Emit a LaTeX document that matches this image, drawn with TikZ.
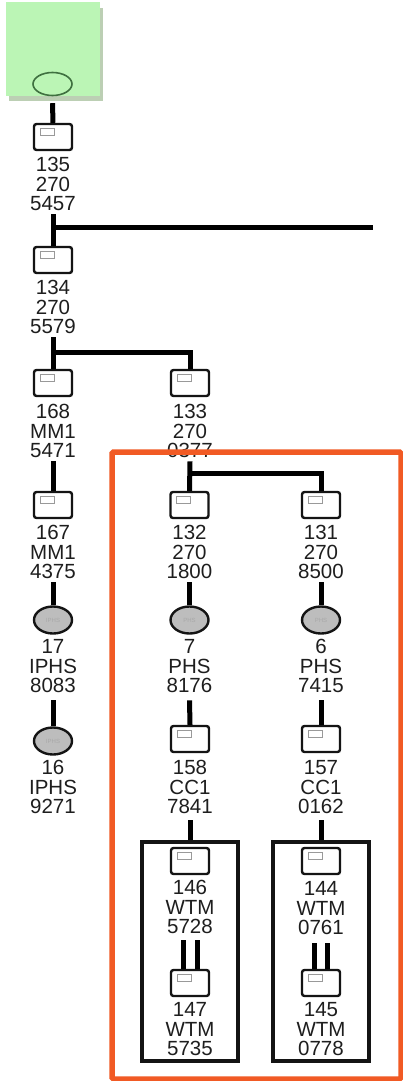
\documentclass[tikz,border=0pt]{standalone}
\usepackage{fontspec}
\setmainfont{Liberation Sans}
\usetikzlibrary{shapes.geometric}
\definecolor{ink}{HTML}{1E1E1E}
\definecolor{boxline}{HTML}{141414}
\definecolor{rootgreen}{HTML}{BBF5B5}
\definecolor{rootshadow}{HTML}{BCCFB4}
\definecolor{rootring}{HTML}{3F7040}
\definecolor{frameorange}{HTML}{F15A24}
\definecolor{tankgray}{HTML}{BDBDBD}
\definecolor{tanktext}{HTML}{A8A8A8}
\tikzset{
  x=1pt,y=-1pt,
  conn/.style={line width=5pt,draw=black},
  unitbox/.style={draw=boxline,fill=white,line width=2.4pt,rounded corners=2.5pt,minimum width=38pt,minimum height=26pt,inner sep=0pt,
    path picture={\draw[sharp corners,draw=gray!80,line width=1pt,fill=white] ([xshift=6pt,yshift=-4pt]path picture bounding box.north west) rectangle ++(14pt,-7pt);}},
  tankoval/.style={ellipse,draw=boxline,fill=tankgray,line width=2.4pt,minimum width=38pt,minimum height=27pt,inner sep=0pt,text=tanktext,font=\fontsize{6}{6}\selectfont},
  lab/.style={anchor=north,align=center,text=ink,inner sep=0pt,minimum height=60pt,text width=70pt,font=\fontsize{20.5}{19.7}\selectfont},
  frame/.style={draw=boxline,line width=4pt,minimum width=96pt,minimum height=219pt,inner sep=0pt}
}
\begin{document}
\begin{tikzpicture}
\useasboundingbox (0,0) rectangle (403,1081);
\fill[white] (0,0) rectangle (403,1081);
% root
\fill[rootshadow] (9,8) rectangle (103,101);
\node[fill=rootgreen,minimum width=94pt,minimum height=94pt,inner sep=0pt] (root) at (52.5,49) {};
\node[ellipse,draw=rootring,line width=1.6pt,minimum width=39pt,minimum height=23pt,inner sep=0pt] (rootoval) at (52.5,84) {};
% frames
\node[frame] (frameA) at (190,951.5) {};
\node[frame] (frameB) at (321,951.5) {};
% boxes
\node[unitbox] (b135) at (53,137) {};
\node[lab] (l135) at (53,154) {135\\270\\5457};
\node[unitbox] (b134) at (53,260) {};
\node[lab] (l134) at (53,277) {134\\270\\5579};
\node[unitbox] (b168) at (53,383) {};
\node[lab] (l168) at (53,401) {168\\MM1\\5471};
\node[unitbox] (b133) at (190,383) {};
\node[lab] (l133) at (190,401) {133\\270\\0377};
\node[unitbox] (b167) at (53,505) {};
\node[lab] (l167) at (53,522) {167\\MM1\\4375};
\node[unitbox] (b132) at (189.5,505) {};
\node[lab] (l132) at (189.5,522) {132\\270\\1800};
\node[unitbox] (b131) at (321,505) {};
\node[lab] (l131) at (321,522) {131\\270\\8500};
\node[tankoval] (e17) at (53,620) {IPHS};
\node[lab] (l17) at (53,636) {17\\IPHS\\8083};
\node[tankoval] (e7) at (189.5,620) {PHS};
\node[lab] (l7) at (189.5,636) {7\\PHS\\8176};
\node[tankoval] (e6) at (321,620) {PHS};
\node[lab] (l6) at (321,636) {6\\PHS\\7415};
\node[tankoval] (e16) at (53,741) {IPHS};
\node[lab] (l16) at (53,757) {16\\IPHS\\9271};
\node[unitbox] (b158) at (190,739) {};
\node[lab] (l158) at (190,757) {158\\CC1\\7841};
\node[unitbox] (b157) at (321,739) {};
\node[lab] (l157) at (321,757) {157\\CC1\\0162};
\node[unitbox] (b146) at (190,861) {};
\node[lab] (l146) at (190,877) {146\\WTM\\5728};
\node[unitbox] (b144) at (321,861) {};
\node[lab] (l144) at (321,878) {144\\WTM\\0761};
\node[unitbox] (b147) at (190,983) {};
\node[lab] (l147) at (190,999) {147\\WTM\\5735};
\node[unitbox] (b145) at (321,983) {};
\node[lab] (l145) at (321,999) {145\\WTM\\0778};
% junctions
\coordinate (j1) at (53,227);
\coordinate (jend) at (373,227);
\coordinate (j2) at (53,352);
\coordinate (j3) at (189.5,473);
% connectors
\draw[conn] ([yshift=-7pt]root.south) -- (b135.north);
\draw[conn] (l135.south) -- (b134.north);
\draw[conn] (j1) -- (jend);
\draw[conn] (l134.south) -- (b168.north);
\draw[conn] (j2) -| (b133.north);
\draw[conn] (l168.south) -- (b167.north);
\draw[conn] (l133.south) -- (b132.north);
\draw[conn] (j3) -| (b131.north);
\draw[conn] (l167.south) -- (e17.north);
\draw[conn] (l132.south) -- (e7.north);
\draw[conn] (l131.south) -- (e6.north);
\draw[conn] ([yshift=-4pt]l17.south) -- (e16.north);
\draw[conn] ([yshift=-4pt]l7.south) -- (b158.north);
\draw[conn] ([yshift=-4pt]l6.south) -- (b157.north);
\draw[conn] ([yshift=-3pt]l158.south) -- (frameA.north);
\draw[conn] ([yshift=-3pt]l157.south) -- (frameB.north);
\draw[conn] ([xshift=-7pt,yshift=-3pt]l146.south) -- ([xshift=-7pt]b147.north);
\draw[conn] ([xshift=7pt,yshift=-3pt]l146.south) -- ([xshift=7pt]b147.north);
\draw[conn] ([xshift=-6.5pt,yshift=-5pt]l144.south) -- ([xshift=-6.5pt]b145.north);
\draw[conn] ([xshift=6.5pt,yshift=-5pt]l144.south) -- ([xshift=6.5pt]b145.north);
% orange selection frame
\node[draw=frameorange,line width=5.5pt,rounded corners=1.5pt,minimum width=289pt,minimum height=627pt,inner sep=0pt] (selection) at (256.5,765.5) {};
\end{tikzpicture}
\end{document}
